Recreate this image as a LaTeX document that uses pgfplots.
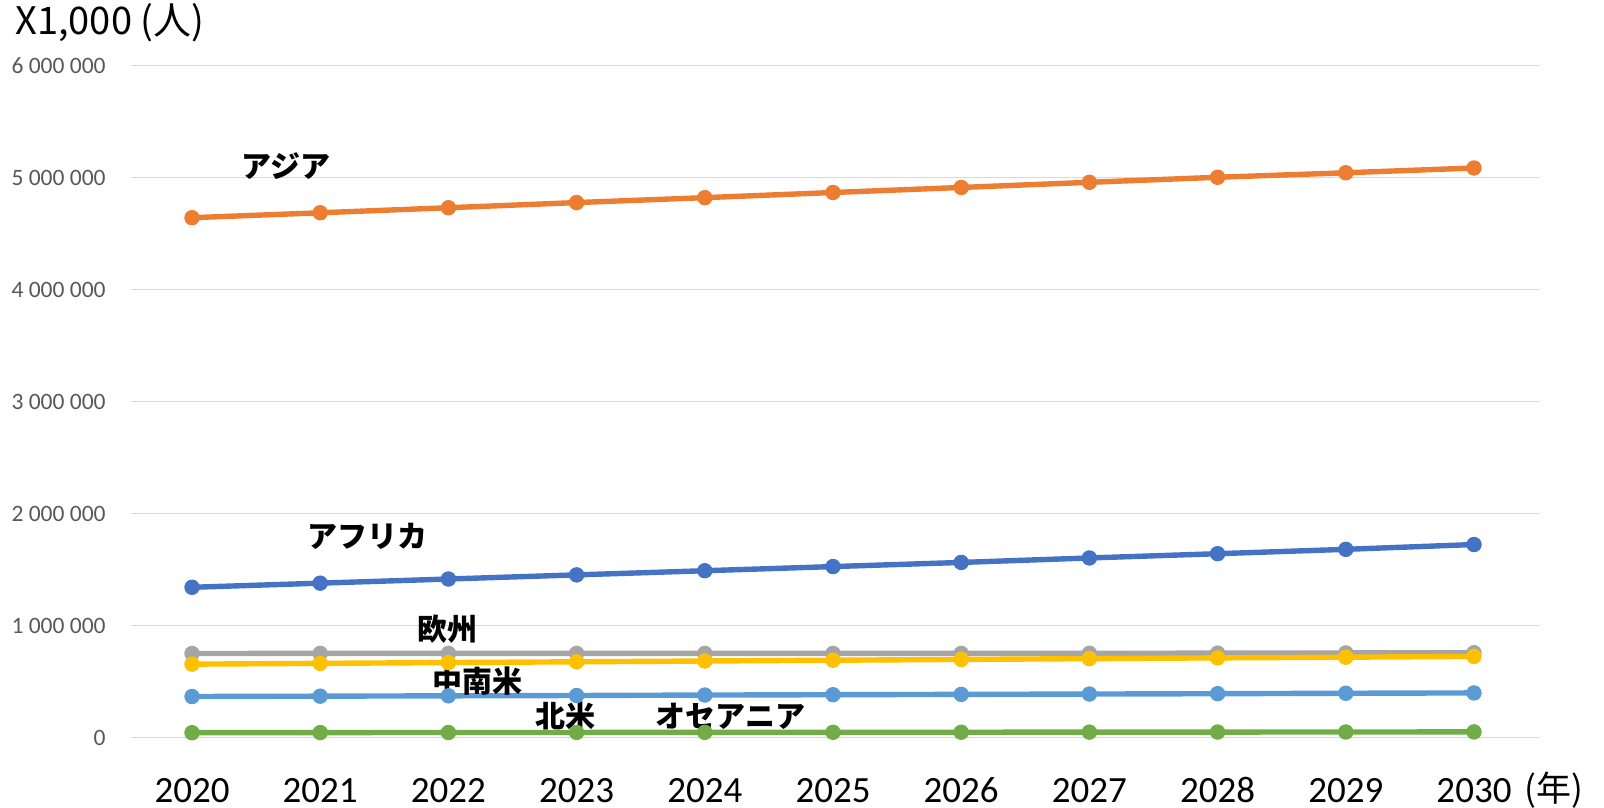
\documentclass[border=0pt]{standalone}
\usepackage{pgfplots}
\pgfplotsset{compat=1.18}
\usepackage{fontspec}
\setmainfont{Carlito}
\newfontfamily\jp{Noto Sans CJK JP}
\definecolor{cAsia}{HTML}{ED7D31}
\definecolor{cAfrica}{HTML}{4472C4}
\definecolor{cEurope}{HTML}{A5A5A5}
\definecolor{cLatAm}{HTML}{FFC000}
\definecolor{cNAm}{HTML}{5B9BD5}
\definecolor{cOce}{HTML}{70AD47}
\definecolor{gridc}{HTML}{D9D9D9}
\definecolor{tickc}{HTML}{595959}
\pgfplotsset{ser/.style={color=#1, line width=2.7pt, mark=*, mark size=3.6pt, mark options={fill=#1, draw=#1, line width=0.5pt}}}
\begin{document}
\begin{tikzpicture}
\useasboundingbox (-65.5pt,-35.2pt) rectangle (736.5pt,368.75pt);
\begin{axis}[
  at={(0pt,0pt)}, anchor=south west,
  scale only axis, width=704.5pt, height=336pt,
  xmin=2019.524, xmax=2030.515, ymin=0, ymax=6000000,
  axis line style={draw=none},
  clip=false,
  ymajorgrids, grid style={gridc, line width=0.75pt},
  xtick={2020,2021,2022,2023,2024,2025,2026,2027,2028,2029,2030},
  xticklabels={2020,2021,2022,2023,2024,2025,2026,2027,2028,2029,2030},
  ytick={0,1000000,2000000,3000000,4000000,5000000,6000000},
  yticklabels={0,1 000 000,2 000 000,3 000 000,4 000 000,5 000 000,6 000 000},
  scaled y ticks=false,
  xticklabel style={anchor=base, inner sep=0pt, text depth=0pt, yshift=-32.3pt, font=\fontsize{18.5}{19}\selectfont, text=black},
  yticklabel style={anchor=east, inner sep=0pt, xshift=-12.5pt, font=\fontsize{11.75}{12}\selectfont, text=tickc},
  major tick length=0pt,
]
\addplot[ser=cAsia] coordinates {
(2020,4641000) (2021,4685000) (2022,4730000) (2023,4776000) (2024,4820000) (2025,4866000) (2026,4911000) (2027,4957000) (2028,5002000) (2029,5042000) (2030,5085000)};
\addplot[ser=cAfrica] coordinates {
(2020,1341000) (2021,1378000) (2022,1415000) (2023,1452000) (2024,1489000) (2025,1526000) (2026,1563000) (2027,1603000) (2028,1641000) (2029,1680000) (2030,1723000)};
\addplot[ser=cEurope] coordinates {
(2020,750000) (2021,751000) (2022,751000) (2023,751000) (2024,751000) (2025,751000) (2026,751000) (2027,752000) (2028,753000) (2029,755000) (2030,757000)};
\addplot[ser=cLatAm] coordinates {
(2020,655000) (2021,662000) (2022,669000) (2023,676000) (2024,683000) (2025,690000) (2026,697000) (2027,704000) (2028,711000) (2029,717000) (2030,724000)};
\addplot[ser=cNAm] coordinates {
(2020,366000) (2021,369000) (2022,372000) (2023,375000) (2024,379000) (2025,382000) (2026,385000) (2027,388000) (2028,391000) (2029,395000) (2030,398000)};
\addplot[ser=cOce] coordinates {
(2020,43000) (2021,44000) (2022,44500) (2023,45000) (2024,46000) (2025,46500) (2026,47000) (2027,48000) (2028,48500) (2029,49000) (2030,50000)};
\begin{scope}[every node/.style={font=\jp\bfseries\fontsize{15}{16}\selectfont, text=black, inner sep=0pt}]
\node at (axis cs:2020.73,5105000) {アジア};
\node at (axis cs:2021.37,1800000) {アフリカ};
\node at (axis cs:2021.99,968000) {欧州};
\node at (axis cs:2022.23,500000) {中南米};
\node at (axis cs:2022.91,190000) {北米};
\node at (axis cs:2024.20,190000) {オセアニア};
\end{scope}
\node[anchor=west, inner sep=0pt, font=\jp\fontsize{17.5}{18}\selectfont] at (axis cs:2030.39,0) [yshift=-26.5pt] {(年)};
\end{axis}
\node[anchor=west, inner sep=0pt, font=\jp\fontsize{19}{20}\selectfont] at (-58pt,357.5pt) {X1,000 (人)};
\end{tikzpicture}
\end{document}
